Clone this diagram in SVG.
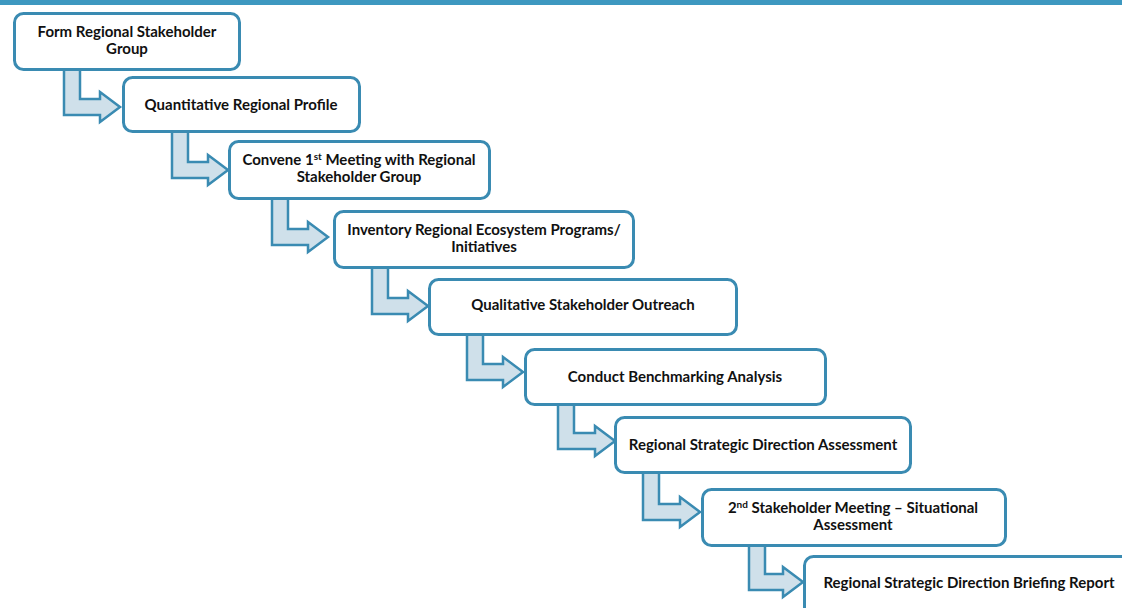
<svg xmlns="http://www.w3.org/2000/svg" width="1122" height="608" viewBox="0 0 1122 608">
<style>
.box{fill:#ffffff;stroke:#3a8bb2;stroke-width:3}
.arr{fill:#cfe0ea;stroke:#3a8bb2;stroke-width:2.5;stroke-linejoin:miter}
text{font-family:Lato,"Liberation Sans",sans-serif;font-weight:bold;font-size:15px;fill:#111111;text-anchor:middle}
.sup{font-size:10px}
</style>
<rect x="0" y="0" width="1122" height="5" fill="#3d98c0"/>
<g id="connectors">
<path class="arr" d="M64,68 L80,68 L80,99 L100,99 L100,92 L120,107 L100,122 L100,115 L64,115 Z"/>
<path class="arr" d="M172,131 L188,131 L188,162 L208,162 L208,155 L228,170 L208,185 L208,178 L172,178 Z"/>
<path class="arr" d="M272,196 L288,196 L288,229 L308,229 L308,222 L328,237 L308,252 L308,245 L272,245 Z"/>
<path class="arr" d="M372,266 L388,266 L388,298 L408,298 L408,291 L428,306 L408,321 L408,314 L372,314 Z"/>
<path class="arr" d="M467,333 L483,333 L483,364 L503,364 L503,357 L523,372 L503,387 L503,380 L467,380 Z"/>
<path class="arr" d="M558,404 L574,404 L574,433 L595,433 L595,426 L615,441 L595,456 L595,449 L558,449 Z"/>
<path class="arr" d="M643,471 L659,471 L659,504 L680,504 L680,497 L700,512 L680,527 L680,520 L643,520 Z"/>
<path class="arr" d="M749,544 L765,544 L765,574 L783,574 L783,567 L803,582 L783,597 L783,590 L749,590 Z"/>
</g>
<g id="n1"><rect class="box" x="14.5" y="13.5" width="225" height="56" rx="9"/>
<text x="127" y="37">Form Regional Stakeholder</text><text x="127" y="54">Group</text></g>
<g id="n2"><rect class="box" x="123.5" y="77.5" width="236" height="54" rx="9"/>
<text x="241" y="110">Quantitative Regional Profile</text></g>
<g id="n3"><rect class="box" x="229.5" y="141.5" width="260" height="57" rx="9"/>
<text x="359" y="165">Convene 1<tspan class="sup" dy="-5">st</tspan><tspan dy="5"> Meeting with Regional</tspan></text><text x="359" y="182">Stakeholder Group</text></g>
<g id="n4"><rect class="box" x="334.5" y="211.5" width="299" height="56" rx="9"/>
<text x="484" y="235">Inventory Regional Ecosystem Programs/</text><text x="484" y="252">Initiatives</text></g>
<g id="n5"><rect class="box" x="429.5" y="279.5" width="307" height="55" rx="9"/>
<text x="583" y="310">Qualitative Stakeholder Outreach</text></g>
<g id="n6"><rect class="box" x="525.5" y="349.5" width="300" height="55" rx="9"/>
<text x="675" y="382">Conduct Benchmarking Analysis</text></g>
<g id="n7"><rect class="box" x="615.5" y="417.5" width="295" height="55" rx="9"/>
<text x="763" y="450">Regional Strategic Direction Assessment</text></g>
<g id="n8"><rect class="box" x="702.5" y="489.5" width="303" height="56" rx="9"/>
<text x="853" y="513">2<tspan class="sup" dy="-5">nd</tspan><tspan dy="5"> Stakeholder Meeting – Situational</tspan></text><text x="853" y="530">Assessment</text></g>
<g id="n9"><rect class="box" x="804.5" y="556.5" width="340" height="70" rx="9"/>
<text x="969" y="588">Regional Strategic Direction Briefing Report</text></g>
</svg>
